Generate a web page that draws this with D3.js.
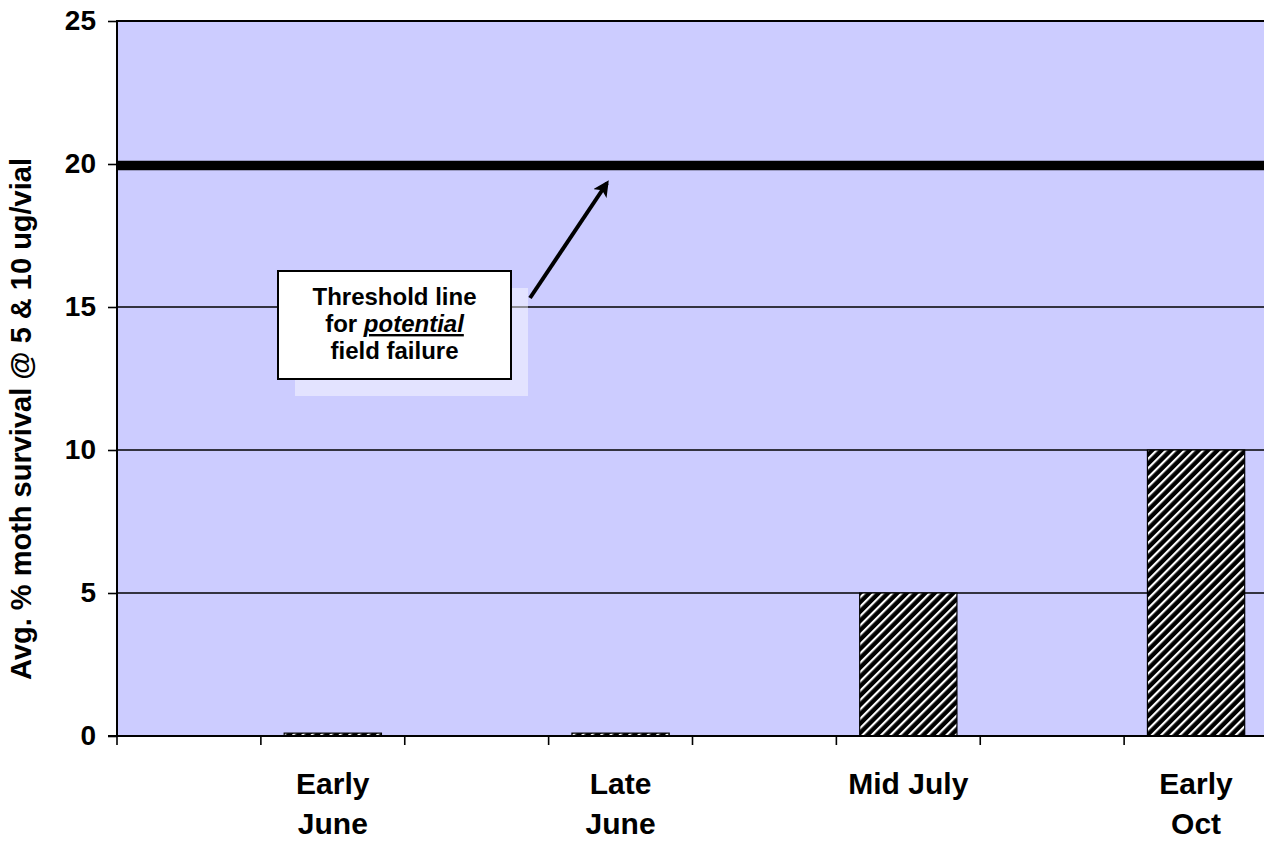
<!DOCTYPE html>
<html>
<head>
<meta charset="utf-8">
<script src="https://cdn.jsdelivr.net/npm/d3@7"></script>
<style>
  html, body { margin: 0; padding: 0; background: #ffffff; }
  svg { display: block; font-family: "Liberation Sans", Arial, sans-serif; }
</style>
</head>
<body>
<svg id="chart" width="1264" height="841"></svg>
<script>
// Sampling periods and average % moth survival at 5 & 10 ug/vial
const categories = ["Early June", "Late June", "Mid July", "Early Oct"];
const labelLines = [["Early", "June"], ["Late", "June"], ["Mid July"], ["Early", "Oct"]];
const survival = [0.1, 0.1, 5, 10];
const yTicks = [0, 5, 10, 15, 20, 25];
const threshold = 20;
const noteLines = ["Threshold line", "for potential", "field failure"];

const svg = d3.select("#chart");
const plot = { left: 117, right: 1268, top: 21, bottom: 736 };

const x = d3.scaleBand().domain(categories).range([plot.left, plot.right]).padding(0);
const y = d3.scaleLinear().domain([0, 25]).range([plot.bottom, plot.top]);
const bw = x.bandwidth();
const half = bw / 2;
const barW = half * 0.676;

// diagonal hatch for the bars
const defs = svg.append("defs");
const pat = defs.append("pattern")
  .attr("id", "hatch")
  .attr("patternUnits", "userSpaceOnUse")
  .attr("width", 6.6).attr("height", 6.6)
  .attr("patternTransform", "rotate(45)");
pat.append("rect").attr("width", 6.6).attr("height", 6.6).attr("fill", "#000");
pat.append("rect").attr("x", 0).attr("width", 2.2).attr("height", 6.6).attr("fill", "#fff");

// plot background
svg.append("rect")
  .attr("x", plot.left).attr("y", plot.top)
  .attr("width", plot.right - plot.left).attr("height", plot.bottom - plot.top)
  .attr("fill", "#CCCCFF");

// horizontal gridlines
svg.append("g").selectAll("line")
  .data(yTicks.filter(t => t > 0 && t < 25))
  .join("line")
  .attr("x1", plot.left).attr("x2", plot.right)
  .attr("y1", d => y(d)).attr("y2", d => y(d))
  .attr("stroke", "#000").attr("stroke-width", 1.6);

// top border
svg.append("line")
  .attr("x1", plot.left).attr("x2", plot.right)
  .attr("y1", plot.top).attr("y2", plot.top)
  .attr("stroke", "#000").attr("stroke-width", 2);

// bars, drawn in the second half of each period's band
svg.append("g").selectAll("rect")
  .data(categories)
  .join("rect")
  .attr("x", (d, i) => x(d) + half + (half - barW) / 2)
  .attr("y", (d, i) => y(survival[i]))
  .attr("width", barW)
  .attr("height", (d, i) => y(0) - y(survival[i]))
  .attr("fill", "url(#hatch)")
  .attr("stroke", "#000").attr("stroke-width", 1.2);

// threshold line
svg.append("line")
  .attr("x1", plot.left).attr("x2", plot.right)
  .attr("y1", y(threshold) + 1.5).attr("y2", y(threshold) + 1.5)
  .attr("stroke", "#000").attr("stroke-width", 9.5);

// y axis
const yAxis = d3.axisLeft(y).tickValues(yTicks).tickSize(9).tickPadding(12).tickFormat(d3.format("d"));
const gy = svg.append("g").attr("transform", `translate(${plot.left},0)`).call(yAxis);
gy.select(".domain").remove();
gy.selectAll(".tick line").attr("stroke", "#000").attr("stroke-width", 1.6);
gy.selectAll(".tick text")
  .attr("font-size", 28).attr("font-weight", "bold").attr("fill", "#000")
  .attr("font-family", "'Liberation Sans', Arial, sans-serif");
svg.append("line")
  .attr("x1", plot.left).attr("x2", plot.left)
  .attr("y1", plot.top - 1).attr("y2", plot.bottom + 1)
  .attr("stroke", "#000").attr("stroke-width", 2);

// x axis: tick at each band edge and band midpoint
const tickXs = [];
categories.forEach(c => { tickXs.push(x(c)); tickXs.push(x(c) + half); });
svg.append("g").selectAll("line")
  .data(tickXs)
  .join("line")
  .attr("x1", d => d).attr("x2", d => d)
  .attr("y1", plot.bottom).attr("y2", plot.bottom + 9)
  .attr("stroke", "#000").attr("stroke-width", 1.6);
svg.append("line")
  .attr("x1", plot.left - 9).attr("x2", plot.right)
  .attr("y1", plot.bottom).attr("y2", plot.bottom)
  .attr("stroke", "#000").attr("stroke-width", 2);

// category labels
const xl = svg.append("g");
categories.forEach((c, i) => {
  const cx = x(c) + half + half / 2;
  const t = xl.append("text")
    .attr("x", cx).attr("y", 794)
    .attr("text-anchor", "middle")
    .attr("font-size", 30).attr("font-weight", "bold").attr("fill", "#000");
  labelLines[i].forEach((ln, k) => {
    t.append("tspan").attr("x", cx).attr("dy", k === 0 ? 0 : 40).text(ln);
  });
});

// y axis title
svg.append("text")
  .attr("transform", "translate(31,419) rotate(-90)")
  .attr("text-anchor", "middle")
  .attr("font-size", 29).attr("font-weight", "bold").attr("fill", "#000")
  .text("Avg. % moth survival @ 5 & 10 ug/vial");

// annotation: shadow, box, text
const box = { x: 278, y: 271, w: 233, h: 108 };
svg.append("rect")
  .attr("x", box.x + 17).attr("y", box.y + 17)
  .attr("width", box.w).attr("height", box.h)
  .attr("fill", "#ffffff").attr("fill-opacity", 0.45);
svg.append("rect")
  .attr("x", box.x).attr("y", box.y)
  .attr("width", box.w).attr("height", box.h)
  .attr("fill", "#fff").attr("stroke", "#000").attr("stroke-width", 2);

const note = svg.append("text")
  .attr("text-anchor", "middle")
  .attr("font-size", 24).attr("font-weight", "bold").attr("fill", "#000");
const ncx = box.x + box.w / 2;
note.append("tspan").attr("x", ncx).attr("y", 305).text(noteLines[0]);
const l2 = note.append("tspan").attr("x", ncx).attr("y", 332);
l2.append("tspan").text("for ");
l2.append("tspan").attr("font-style", "italic").attr("text-decoration", "underline").text("potential");
note.append("tspan").attr("x", ncx).attr("y", 359).text(noteLines[2]);

// arrow pointing at the threshold line
defs.append("marker")
  .attr("id", "arrowhead")
  .attr("viewBox", "0 0 10 10")
  .attr("refX", 8).attr("refY", 5)
  .attr("markerWidth", 4).attr("markerHeight", 4)
  .attr("markerUnits", "strokeWidth")
  .attr("orient", "auto")
  .append("path").attr("d", "M0,0 L10,5 L0,10 L2.5,5 Z").attr("fill", "#000");
svg.append("line")
  .attr("x1", 530).attr("y1", 298)
  .attr("x2", 607).attr("y2", 183)
  .attr("stroke", "#000").attr("stroke-width", 4)
  .attr("marker-end", "url(#arrowhead)");
</script>
</body>
</html>
